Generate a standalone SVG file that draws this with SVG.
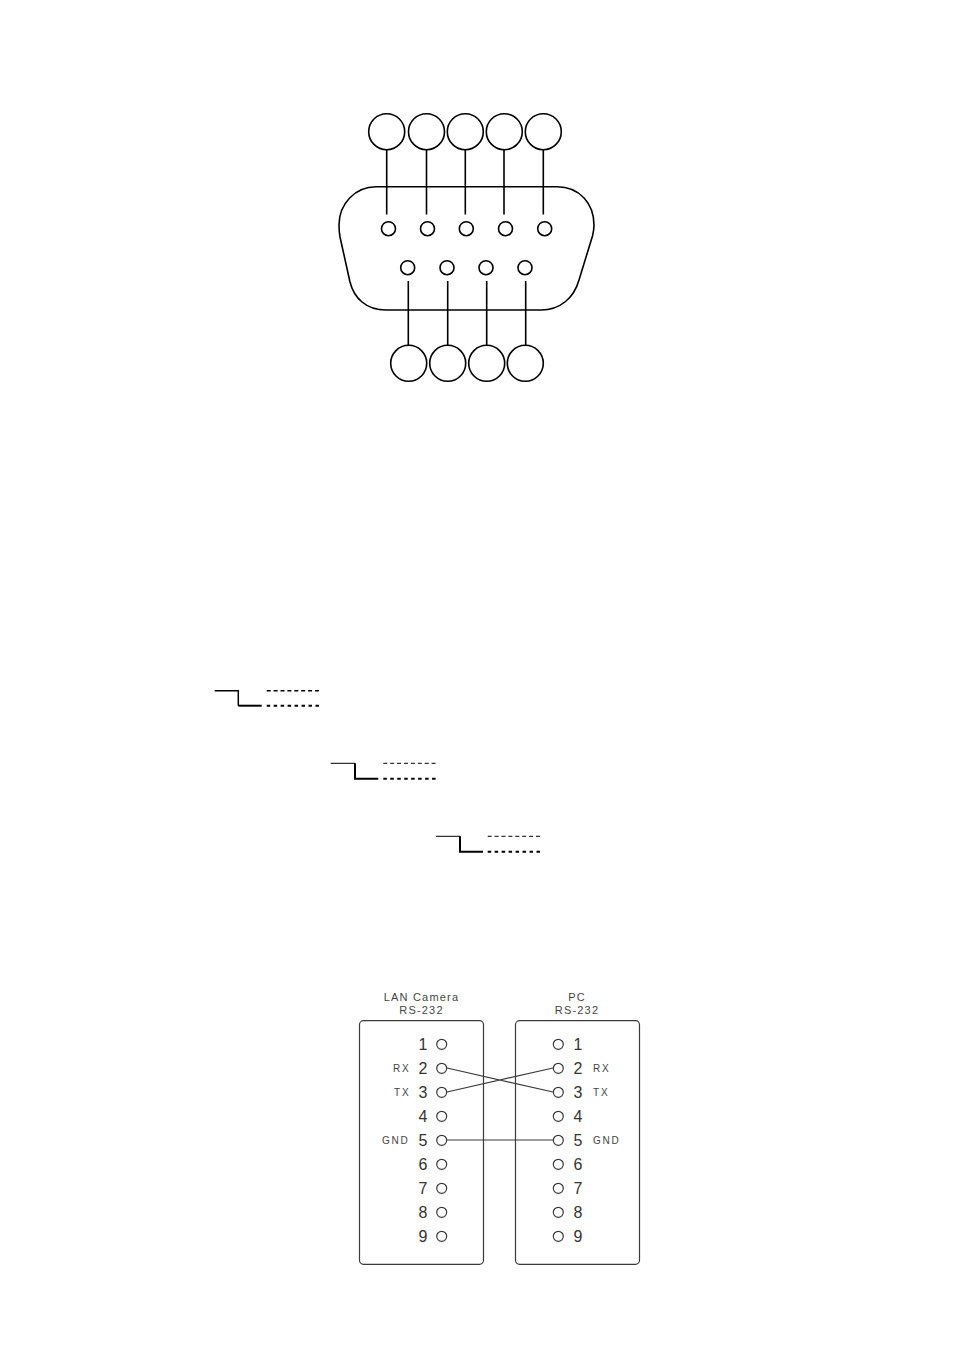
<svg xmlns="http://www.w3.org/2000/svg" width="954" height="1355" viewBox="0 0 954 1355">
<style>
.k{fill:none;stroke:#000;stroke-width:1.6}
.w{fill:none;stroke:#000}
.g{fill:none;stroke:#3a3a3a;stroke-width:1.2}
.p{fill:#fff;stroke:#3a3a3a;stroke-width:1.2}
.n{font:16px "Liberation Sans",Arial,sans-serif;fill:#333;text-anchor:middle}
.l{font:10px "Liberation Sans",Arial,sans-serif;fill:#444;letter-spacing:1.8px}
.t{font:11px "Liberation Sans",Arial,sans-serif;fill:#444;text-anchor:middle;letter-spacing:1.2px}
</style>
<rect width="954" height="1355" fill="#fff"/>
<g id="connector-shell"><path class="k" d="M376 186.700H557C580 186.700 594 204 594 225C594 229 593.500 232 592.500 236L579 280C574 298 560 310 541 310H386C366 310 354 298 350 282L340 237C339.300 233 339 229 339 225C339 204 355 186.700 376 186.700Z"/></g>
<g id="connector-leads">
<path class="k" d="M386.700 150V214.500M426.500 150V214.500M465.300 150V214.500M504 150V214.500M543.300 150V214.500M408.300 281V345M447.700 281V345M486.700 281V345M525.700 281V345"/>
</g>
<g id="top-labels">
<circle class="k" cx="386.700" cy="131.700" r="18"/><circle class="k" cx="426.500" cy="131.700" r="18"/><circle class="k" cx="465.300" cy="131.700" r="18"/><circle class="k" cx="504.300" cy="131.700" r="18"/><circle class="k" cx="543.300" cy="131.700" r="18"/>
</g>
<g id="top-pins">
<circle class="k" cx="388.500" cy="228.700" r="7"/><circle class="k" cx="427.500" cy="228.700" r="7"/><circle class="k" cx="466.300" cy="228.700" r="7"/><circle class="k" cx="505.500" cy="228.700" r="7"/><circle class="k" cx="544.700" cy="228.700" r="7"/>
</g>
<g id="bottom-pins">
<circle class="k" cx="407.700" cy="267.700" r="7"/><circle class="k" cx="447" cy="267.700" r="7"/><circle class="k" cx="486" cy="267.700" r="7"/><circle class="k" cx="525" cy="267.700" r="7"/>
</g>
<g id="bottom-labels">
<circle class="k" cx="408.700" cy="363.300" r="18"/><circle class="k" cx="447.700" cy="363.300" r="18"/><circle class="k" cx="486.700" cy="363.300" r="18"/><circle class="k" cx="525.300" cy="363.300" r="18"/>
</g>
<g id="wave-1">
<path class="w" stroke-width="1.500" d="M214.700 690.700H238.300V705.700"/><path class="w" stroke-width="2" d="M238.300 705.700H261.700"/>
<path class="w" stroke-width="1.500" stroke-dasharray="4 2.900" d="M266.700 690.700H319"/><path class="w" stroke-width="2" stroke-dasharray="3.500 3.470" d="M266.700 705.700H319"/>
</g>
<g id="wave-2">
<path class="w" stroke-width="1" d="M330.700 763.300H355"/><path class="w" stroke-width="2" d="M355 763.300V778.700H378.300"/>
<path class="w" stroke-width="1" stroke-dasharray="4 2.900" d="M383.300 763.300H435.600"/><path class="w" stroke-width="2" stroke-dasharray="3.500 3.470" d="M383.300 778.700H435.600"/>
</g>
<g id="wave-3">
<path class="w" stroke-width="1" d="M436 836.300H460"/><path class="w" stroke-width="2" d="M460 836.300V851.700H483"/>
<path class="w" stroke-width="1" stroke-dasharray="4 2.900" d="M487.700 836.300H540"/><path class="w" stroke-width="2" stroke-dasharray="3.500 3.470" d="M487.700 851.700H540"/>
</g>
<g id="lan-camera">
<text class="t" x="421.500" y="1000.500">LAN Camera</text><text class="t" x="421.500" y="1014">RS-232</text>
<rect class="g" x="359.500" y="1020.700" width="124" height="243.600" rx="4"/>
<text class="n" x="423" y="1049.500">1</text><text class="n" x="423" y="1073.500">2</text><text class="n" x="423" y="1097.500">3</text><text class="n" x="423" y="1121.500">4</text><text class="n" x="423" y="1145.500">5</text><text class="n" x="423" y="1169.500">6</text><text class="n" x="423" y="1193.500">7</text><text class="n" x="423" y="1217.500">8</text><text class="n" x="423" y="1241.500">9</text>
<text class="l" x="393" y="1071.500">RX</text><text class="l" x="394" y="1095.500">TX</text><text class="l" x="382" y="1143.500">GND</text>
</g>
<g id="pc">
<text class="t" x="577" y="1000.500">PC</text><text class="t" x="577" y="1014">RS-232</text>
<rect class="g" x="515.500" y="1020.700" width="124" height="243.600" rx="4"/>
<text class="n" x="578" y="1049.500">1</text><text class="n" x="578" y="1073.500">2</text><text class="n" x="578" y="1097.500">3</text><text class="n" x="578" y="1121.500">4</text><text class="n" x="578" y="1145.500">5</text><text class="n" x="578" y="1169.500">6</text><text class="n" x="578" y="1193.500">7</text><text class="n" x="578" y="1217.500">8</text><text class="n" x="578" y="1241.500">9</text>
<text class="l" x="593" y="1071.500">RX</text><text class="l" x="593" y="1095.500">TX</text><text class="l" x="593" y="1143.500">GND</text>
</g>
<g id="wires">
<path class="g" d="M447 1068L553 1092M447 1092L553 1068M447 1140H553"/>
</g>
<g id="pin-circles">
<circle class="p" cx="441.700" cy="1044.300" r="5"/><circle class="p" cx="441.700" cy="1068.300" r="5"/><circle class="p" cx="441.700" cy="1092.300" r="5"/><circle class="p" cx="441.700" cy="1116.300" r="5"/><circle class="p" cx="441.700" cy="1140.300" r="5"/><circle class="p" cx="441.700" cy="1164.300" r="5"/><circle class="p" cx="441.700" cy="1188.300" r="5"/><circle class="p" cx="441.700" cy="1212.300" r="5"/><circle class="p" cx="441.700" cy="1236.300" r="5"/>
<circle class="p" cx="558.300" cy="1044.300" r="5"/><circle class="p" cx="558.300" cy="1068.300" r="5"/><circle class="p" cx="558.300" cy="1092.300" r="5"/><circle class="p" cx="558.300" cy="1116.300" r="5"/><circle class="p" cx="558.300" cy="1140.300" r="5"/><circle class="p" cx="558.300" cy="1164.300" r="5"/><circle class="p" cx="558.300" cy="1188.300" r="5"/><circle class="p" cx="558.300" cy="1212.300" r="5"/><circle class="p" cx="558.300" cy="1236.300" r="5"/>
</g>
</svg>
